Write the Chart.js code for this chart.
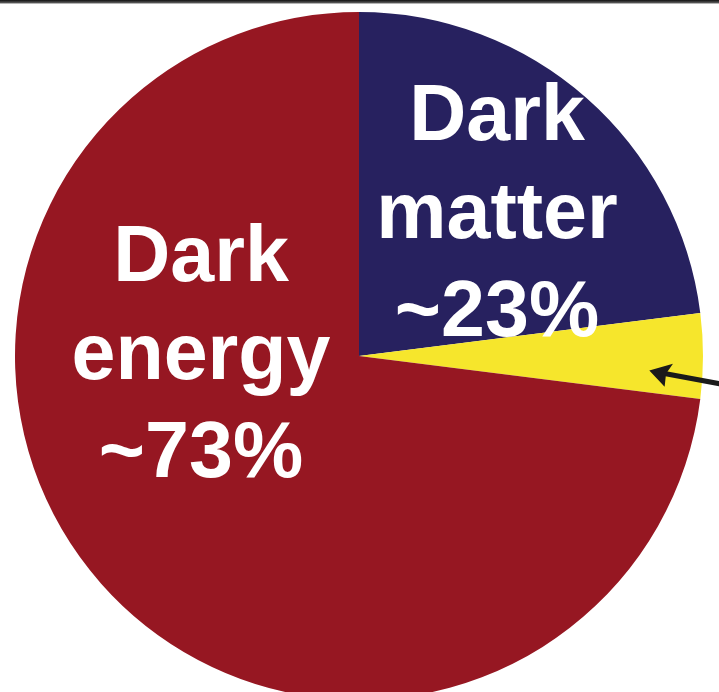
<!DOCTYPE html>
<html>
<head>
<meta charset="utf-8">
<script src="https://cdn.jsdelivr.net/npm/chart.js@4/dist/chart.umd.min.js"></script>
<style>
  html, body { margin: 0; padding: 0; background: #fff; overflow: hidden; }
  #wrap { position: relative; width: 719px; height: 712px; }
</style>
</head>
<body>
<div id="wrap"><canvas id="pie"></canvas></div>
<script>
// Composition of the universe, clockwise from 12 o'clock
const components = ['Dark matter', 'Ordinary matter', 'Dark energy'];
const shares = [23, 4, 73];
const sliceColours = ['#27215f', '#f6e62c', '#961722'];

// Text written inside the slices; dx/dy place the middle line's baseline
// relative to the pie centre
const sliceLabels = [
  { lines: ['Dark', 'matter', '~23%'], dx: 138, dy: -118 },
  { lines: ['Dark', 'energy', '~73%'], dx: -158, dy: 23 }
];

const labelFont = 'bold 79px "Liberation Sans", Arial, Helvetica, sans-serif';
const lineGap = 98;

const insideLabels = {
  id: 'insideLabels',
  afterDraw(chart) {
    const ctx = chart.ctx;
    const arc = chart.getDatasetMeta(0).data[0];
    ctx.save();
    ctx.font = labelFont;
    ctx.fillStyle = '#ffffff';
    ctx.textAlign = 'center';
    ctx.textBaseline = 'alphabetic';
    sliceLabels.forEach((lab) => {
      lab.lines.forEach((line, i) => {
        ctx.fillText(line, arc.x + lab.dx, arc.y + lab.dy + (i - 1) * lineGap);
      });
    });
    ctx.restore();
  }
};

// Frame rule along the top and the pointer at the thin slice
const decorations = {
  id: 'decorations',
  afterDraw(chart) {
    const ctx = chart.ctx;
    const w = chart.width;
    ctx.save();
    const g = ctx.createLinearGradient(0, 0, 0, 4);
    g.addColorStop(0, '#111');
    g.addColorStop(1, '#777');
    ctx.fillStyle = g;
    ctx.fillRect(0, 0, w, 3.5);

    // arrow tip sits inside the ordinary-matter slice, near the rim
    const thin = chart.getDatasetMeta(0).data[1];
    const a = thin.endAngle - 0.3 * (thin.endAngle - thin.startAngle);
    const r = thin.outerRadius * 0.845;
    const tx = thin.x + r * Math.cos(a);
    const ty = thin.y + r * Math.sin(a);
    const ang = Math.atan2(13, w - tx);

    ctx.translate(tx, ty);
    ctx.rotate(ang);
    ctx.fillStyle = '#1a1a1a';
    ctx.strokeStyle = '#1a1a1a';
    ctx.lineWidth = 5;
    ctx.beginPath();
    ctx.moveTo(14, 0);
    ctx.lineTo(w, 0);
    ctx.stroke();
    ctx.beginPath();
    ctx.moveTo(0, 0);
    ctx.lineTo(22, -11);
    ctx.lineTo(17, 0);
    ctx.lineTo(18, 13);
    ctx.closePath();
    ctx.fill();
    ctx.restore();
  }
};

new Chart(document.getElementById('pie'), {
  type: 'pie',
  data: {
    labels: components,
    datasets: [{
      data: shares,
      backgroundColor: sliceColours,
      borderWidth: 0
    }]
  },
  options: {
    responsive: true,
    maintainAspectRatio: false,
    animation: false,
    layout: { padding: { left: 15, right: 16, top: 12, bottom: 12 } },
    plugins: {
      legend: { display: false },
      tooltip: { enabled: false }
    }
  },
  plugins: [insideLabels, decorations]
});
</script>
</body>
</html>
